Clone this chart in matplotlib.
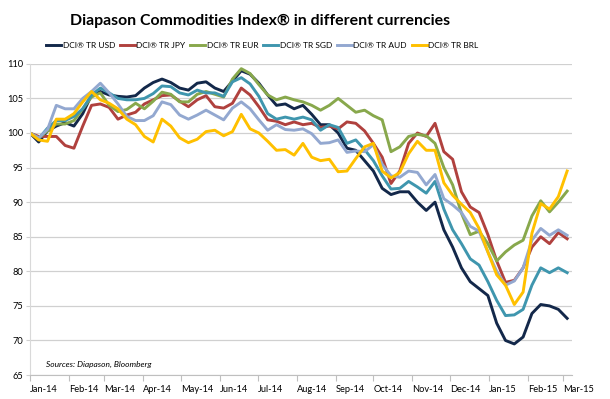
import numpy as np
import pandas as pd
import matplotlib
matplotlib.use("Agg")
import matplotlib.pyplot as plt
import matplotlib.dates as mdates

plt.rcParams['font.family'] = ['Lato', 'DejaVu Sans']

# weekly readings, Jan 2014 - Mar 2015
dates = pd.date_range('2014-01-01', periods=62, freq='7D')

usd = [100, 98.7, 100.3, 101, 101.5, 101, 102.8, 105.5, 106, 105.5,
       105.3, 105.2, 105.4, 106.5, 107.3, 107.8, 107.3, 106.5, 106.2, 107.2,
       107.4, 106.5, 106, 107.5, 109, 108.5, 107.2, 105.5, 104, 104.2,
       103.5, 104, 102.7, 101.2, 101.2, 100, 97.8, 97.5, 96, 94.5,
       92, 91.1, 91.5, 91.5, 90, 88.8, 90, 86, 83.5, 80.5,
       78.5, 77.5, 76.5, 72.5, 70, 69.5, 70.5, 73.9, 75.2, 75,
       74.5, 73.2]
jpy = [100, 99.5, 99.5, 99.5, 98.2, 97.8, 101, 104, 104.2, 103.7,
       102, 102.6, 103, 104.2, 104.8, 105.4, 105.5, 104.6, 103.8, 104.8,
       105.4, 103.8, 103.6, 104.3, 106.5, 105.5, 103.8, 101.9, 101.7, 101.2,
       101.6, 101.2, 101.4, 100.8, 101, 100.6, 101.6, 101.4, 100.3, 98.5,
       96.5, 92.7, 94.5, 98.5, 100, 99.5, 101.4, 97.3, 96.2, 91.5,
       89.3, 88.5, 85.3, 81.5, 78.4, 78.7, 80.5, 83.5, 85, 84,
       85.6, 84.7]
eur = [100, 99.3, 100.3, 101.3, 101.3, 101.8, 103.5, 105.2, 105.8, 104,
       103.1, 103.4, 104.3, 103.5, 104.6, 105.9, 105.6, 104.5, 104.5, 105.6,
       106, 105.6, 105.2, 107.8, 109.3, 108.6, 107, 105.5, 104.8, 105.2,
       104.8, 104.5, 104, 103.3, 104, 105, 104, 103, 103.3, 102.5,
       101.9, 97.3, 98, 99.5, 99.8, 99.6, 98.5, 95, 92.5, 88.4,
       85.3, 85.8, 84, 81.5, 82.8, 83.8, 84.5, 88, 90.2, 88.6,
       90, 91.6]
sgd = [100, 99.2, 100.7, 101.8, 101.8, 102.4, 103.5, 105.5, 106.5, 105.8,
       105, 104.8, 104.8, 105, 105.7, 106.8, 106.7, 105.8, 105.5, 106.2,
       105.8, 105.8, 105.3, 107.4, 108, 107.1, 105.3, 102.8, 102, 102.3,
       102, 102.3, 101.9, 100.4, 101.2, 100.8, 98.5, 99, 97.6, 96,
       93.8, 91.9, 92, 93, 92.2, 91.3, 93, 89, 86, 84,
       81.8, 80.9, 78.5, 75.8, 73.6, 73.7, 74.5, 78, 80.5, 79.8,
       80.5, 79.8]
aud = [100, 99.3, 100.5, 104, 103.5, 103.5, 105, 106, 107.2, 105.8,
       104.2, 102.4, 101.8, 101.8, 102.5, 104.5, 104.1, 102.6, 102, 102.6,
       103.3, 102.6, 101.9, 103.6, 104.5, 103.5, 101.9, 100.4, 101.2, 100.5,
       100.4, 100.6, 99.9, 98.5, 98.6, 99, 97.2, 97.4, 97.3, 98.3,
       95.5, 93.8, 93.6, 94.5, 94.3, 92.5, 94, 90.5, 89.6, 88.5,
       86.5, 85.8, 82.8, 80, 78, 78.6, 80.5, 84.5, 86.2, 85.2,
       86, 85.2]
brl = [100, 99, 98.8, 102, 102, 102.8, 104.5, 106, 104.8, 104.3,
       103.5, 102, 101.2, 99.5, 98.7, 102, 101, 99.3, 98.6, 99.1,
       100.2, 100.4, 99.6, 100.2, 102.7, 100.6, 100, 98.8, 97.5, 97.6,
       96.8, 98.5, 96.5, 96, 96.2, 94.4, 94.5, 96.3, 98, 98.5,
       94.5, 93.5, 94.3, 97, 98.8, 97.5, 97.5, 92.8, 91, 89.7,
       88.5, 86.2, 82.8, 79.5, 78, 75.2, 77, 85.5, 89.8, 89,
       90.8, 94.5]

names = ['DCI® TR USD', 'DCI® TR JPY', 'DCI® TR EUR',
         'DCI® TR SGD', 'DCI® TR AUD', 'DCI® TR BRL']
colors = ['#13284A', '#B0413E', '#88A84C', '#3F96AE', '#93A8D0', '#FFC000']

fig = plt.figure(figsize=(6.1, 3.99), dpi=100)
ax = fig.add_axes([0.049, 0.060, 0.889, 0.780])

for vals, name, col in zip([usd, jpy, eur, sgd, aud, brl], names, colors):
    ax.plot(dates, vals, color=col, lw=2.1, label=name, solid_joinstyle='round')

ax.set_ylim(65, 110)
ax.set_yticks(np.arange(65, 111, 5))
ax.set_xlim(pd.Timestamp('2014-01-01'), pd.Timestamp('2015-03-08'))
ax.grid(axis='y', color='#D0D0D0', lw=0.9)
ax.set_axisbelow(True)

ax.xaxis.set_major_locator(mdates.MonthLocator())
ax.xaxis.set_major_formatter(mdates.DateFormatter('%b-%y'))
for lbl in ax.get_xticklabels():
    lbl.set_horizontalalignment('left')

for s in ['top', 'right']:
    ax.spines[s].set_visible(False)
ax.spines['left'].set_color('#D9D9D9')
ax.spines['bottom'].set_color('#BFBFBF')
ax.tick_params(axis='x', direction='out', length=4, color='#BFBFBF',
               labelsize=6.7, pad=3)
ax.tick_params(axis='y', direction='out', length=3, color='#D0D0D0',
               labelsize=6.7, pad=2)

fig.text(0.427, 0.948, 'Diapason Commodities Index® in different currencies',
         ha='center', va='center', fontsize=11.4, fontweight='bold')

fig.legend(loc='center', bbox_to_anchor=(0.43, 0.887), ncol=6, frameon=False,
           fontsize=6, handlelength=1.8, handletextpad=0.15, columnspacing=0.6)

ax.text(0.03, 0.025, 'Sources: Diapason, Bloomberg', transform=ax.transAxes,
        fontsize=6, style='italic')

fig.savefig('out.png', dpi=100)
